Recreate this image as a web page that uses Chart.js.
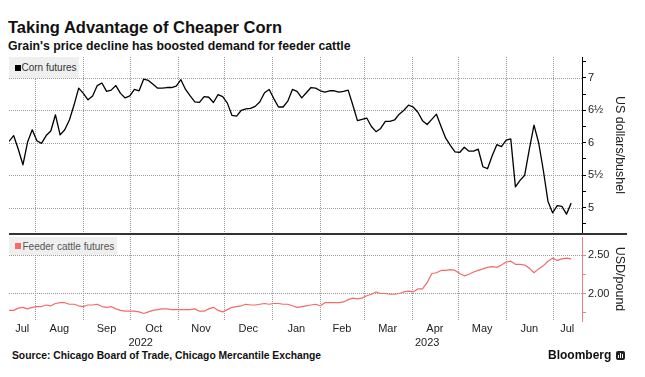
<!DOCTYPE html>
<html lang="en">
<head>
    <meta charset="UTF-8">
    <title>Taking Advantage of Cheaper Corn</title>
    <script src="https://cdn.jsdelivr.net/npm/chart.js"></script>
    <style>
        body { margin: 0; background: #fff; font-family: "Liberation Sans", Arial, sans-serif; }
        #wrap { position: relative; width: 645px; height: 377px; overflow: hidden; }
        .txt { position: absolute; white-space: nowrap; line-height: 1; color: #111; }
        #title { left: 8px; top: 18.5px; font-size: 16.5px; font-weight: bold; }
        #subtitle { left: 8px; top: 39.6px; font-size: 12.3px; font-weight: bold; }
        canvas { position: absolute; left: 0; }
        .legend { position: absolute; left: 9px; background: #efefef; font-size: 10px; line-height: 1; }
        .legend .box { position: absolute; left: 6px; width: 6px; height: 6px; }
        .legend span.lab { position: absolute; white-space: nowrap; }
        #divider { position: absolute; left: 9px; top: 233px; width: 618px; height: 2px; background: #333; }
        #source { left: 12px; top: 350.5px; font-size: 10.3px; font-weight: bold; }
        #brand { left: 548px; top: 349px; font-size: 12px; font-weight: bold; }
        #logo { position: absolute; left: 616px; top: 351px; width: 9px; height: 9px; border-radius: 2px;
                background: #222; }
        #logo i { position: absolute; bottom: 2px; width: 1px; background: #fff; }
    </style>
</head>
<body>
<div id="wrap">
    <div class="txt" id="title">Taking Advantage of Cheaper Corn</div>
    <div class="txt" id="subtitle">Grain's price decline has boosted demand for feeder cattle</div>

    <canvas id="cornChart" width="645" height="180" style="top:55px"></canvas>
    <canvas id="cattleChart" width="645" height="114" style="top:235px"></canvas>

    <div id="divider"></div>

    <div class="legend" style="top:57px;width:70px;height:21px">
        <div class="box" style="top:8px;background:#000"></div>
        <span class="lab" style="left:12.5px;top:6px;color:#333">Corn futures</span>
    </div>
    <div class="legend" style="top:237px;width:108px;height:18px">
        <div class="box" style="top:6px;background:#f56b6b"></div>
        <span class="lab" style="left:13.5px;top:5px;color:#555">Feeder cattle futures</span>
    </div>

    <div class="txt" id="source">Source: Chicago Board of Trade, Chicago Mercantile Exchange</div>
    <div class="txt" id="brand">Bloomberg</div>
    <div id="logo"><i style="left:2px;height:3px"></i><i style="left:4px;height:5px"></i><i style="left:6px;height:4px"></i></div>
</div>

<script>
    // sample dates (every third day) shared by both series
    var dates = [
        '2022-07-15','2022-07-18','2022-07-21','2022-07-24','2022-07-27','2022-07-30','2022-08-02','2022-08-05','2022-08-08','2022-08-11',
        '2022-08-14','2022-08-17','2022-08-20','2022-08-23','2022-08-26','2022-08-29','2022-09-01','2022-09-04','2022-09-07','2022-09-10',
        '2022-09-13','2022-09-16','2022-09-19','2022-09-22','2022-09-25','2022-09-28','2022-10-01','2022-10-04','2022-10-07','2022-10-10',
        '2022-10-13','2022-10-16','2022-10-19','2022-10-22','2022-10-25','2022-10-28','2022-10-31','2022-11-03','2022-11-06','2022-11-09',
        '2022-11-12','2022-11-15','2022-11-18','2022-11-21','2022-11-24','2022-11-27','2022-11-30','2022-12-03','2022-12-06','2022-12-09',
        '2022-12-12','2022-12-15','2022-12-18','2022-12-21','2022-12-24','2022-12-27','2022-12-30','2023-01-02','2023-01-05','2023-01-08',
        '2023-01-11','2023-01-14','2023-01-17','2023-01-20','2023-01-23','2023-01-26','2023-01-29','2023-02-01','2023-02-04','2023-02-07',
        '2023-02-10','2023-02-13','2023-02-16','2023-02-19','2023-02-22','2023-02-25','2023-02-28','2023-03-03','2023-03-06','2023-03-09',
        '2023-03-12','2023-03-15','2023-03-18','2023-03-21','2023-03-24','2023-03-27','2023-03-30','2023-04-02','2023-04-05','2023-04-08',
        '2023-04-11','2023-04-14','2023-04-17','2023-04-20','2023-04-23','2023-04-26','2023-04-29','2023-05-02','2023-05-05','2023-05-08',
        '2023-05-11','2023-05-14','2023-05-17','2023-05-20','2023-05-23','2023-05-26','2023-05-29','2023-06-01','2023-06-04','2023-06-07',
        '2023-06-10','2023-06-13','2023-06-16','2023-06-19','2023-06-22','2023-06-25','2023-06-28','2023-07-01','2023-07-04','2023-07-07',
        '2023-07-10','2023-07-13'
    ];

    // corn futures, US dollars per bushel
    var cornFutures = [
        6.02, 6.11, 5.90, 5.66, 6.01, 6.20, 6.03, 5.99, 6.11, 6.18,
        6.43, 6.12, 6.20, 6.35, 6.58, 6.84, 6.76, 6.66, 6.72, 6.88,
        6.92, 6.79, 6.81, 6.88, 6.76, 6.69, 6.72, 6.82, 6.80, 6.98,
        6.96, 6.90, 6.84, 6.84, 6.85, 6.85, 6.87, 6.97, 6.82, 6.72,
        6.63, 6.62, 6.71, 6.70, 6.62, 6.74, 6.71, 6.61, 6.42, 6.41,
        6.50, 6.52, 6.53, 6.56, 6.63, 6.77, 6.82, 6.68, 6.55, 6.55,
        6.64, 6.82, 6.79, 6.69, 6.77, 6.85, 6.84, 6.80, 6.78, 6.80,
        6.80, 6.78, 6.79, 6.81, 6.58, 6.34, 6.36, 6.38, 6.25, 6.17,
        6.22, 6.33, 6.33, 6.35, 6.44, 6.50, 6.58, 6.55, 6.47, 6.34,
        6.28, 6.36, 6.44, 6.25, 6.07, 5.96, 5.86, 5.85, 5.93, 5.87,
        5.87, 5.90, 5.63, 5.60, 5.80, 5.97, 5.94, 6.04, 6.06, 5.32,
        5.42, 5.50, 5.90, 6.27, 6.00, 5.58, 5.10, 4.92, 5.03, 5.02,
        4.90, 5.07
    ];

    // feeder cattle futures, USD per pound
    var cattleFutures = [
        1.78, 1.78, 1.81, 1.82, 1.80, 1.82, 1.83, 1.83, 1.85, 1.84,
        1.87, 1.88, 1.88, 1.86, 1.86, 1.84, 1.83, 1.85, 1.85, 1.86,
        1.83, 1.82, 1.83, 1.80, 1.78, 1.77, 1.77, 1.77, 1.76, 1.74,
        1.76, 1.78, 1.79, 1.80, 1.80, 1.79, 1.79, 1.79, 1.79, 1.79,
        1.80, 1.77, 1.77, 1.80, 1.82, 1.78, 1.76, 1.79, 1.82, 1.83,
        1.84, 1.86, 1.85, 1.85, 1.86, 1.87, 1.86, 1.87, 1.87, 1.86,
        1.86, 1.84, 1.82, 1.83, 1.84, 1.85, 1.86, 1.84, 1.88, 1.88,
        1.88, 1.88, 1.89, 1.92, 1.94, 1.93, 1.94, 1.97, 1.99, 2.02,
        2.00, 2.00, 1.99, 1.99, 2.00, 2.02, 2.03, 2.02, 2.06, 2.06,
        2.14, 2.26, 2.27, 2.30, 2.30, 2.31, 2.30, 2.26, 2.23, 2.25,
        2.28, 2.30, 2.32, 2.34, 2.35, 2.34, 2.37, 2.41, 2.42, 2.38,
        2.38, 2.37, 2.33, 2.27, 2.32, 2.36, 2.42, 2.46, 2.43, 2.45,
        2.46, 2.45
    ];

    // x axis
    var xStart = '2022-07-15';
    var xEnd = '2023-07-20';
    var monthStarts = ['2022-07-01','2022-08-01','2022-09-01','2022-10-01','2022-11-01','2022-12-01',
                       '2023-01-01','2023-02-01','2023-03-01','2023-04-01','2023-05-01','2023-06-01','2023-07-01'];
    var monthLabels = ['Jul','Aug','Sep','Oct','Nov','Dec','Jan','Feb','Mar','Apr','May','Jun','Jul'];
    var yearStarts = ['2022-01-01','2023-01-01'];
    var yearLabels = ['2022','2023'];

    // y axes
    var cornRange = [4.61, 7.32];
    var cornTicks = [4.75, 5, 5.25, 5.5, 5.75, 6, 6.25, 6.5, 6.75, 7, 7.25];
    var cornTickLabels = ['', '5', '', '5½', '', '6', '', '6½', '', '7', ''];
    var cattleRange = [1.642, 2.735];
    var cattleTicks = [1.75, 2, 2.25, 2.5];
    var cattleTickLabels = ['', '2.00', '', '2.50'];

    var FONT = '"Liberation Sans", Arial, sans-serif';
    var GRID = '#9a9a9a';

    // days since 1 Jul 2022
    var origin = Date.UTC(2022, 6, 1);
    function day(s) {
        var p = s.split('-').map(Number);
        return (Date.UTC(p[0], p[1] - 1, p[2]) - origin) / 86400000;
    }
    var xMin = day(xStart), xMax = day(xEnd);
    var monthLines = monthStarts.map(day).filter(function (d) { return d > xMin && d < xMax; });

    function points(values) {
        return values.map(function (v, i) { return { x: day(dates[i]), y: v }; });
    }

    function labelledTicks(ticks, labels) {
        return ticks.filter(function (v, i) { return labels[i] !== ''; });
    }

    // labels sit in the middle of the visible part of each period
    function periodTicks(starts, names) {
        return starts.map(function (s, i) {
            var a = Math.max(day(s), xMin);
            var b = i + 1 < starts.length ? Math.min(day(starts[i + 1]), xMax) : xMax;
            return { value: (a + b) / 2, name: names[i] };
        });
    }

    // dotted grid drawn through the chart's own scales
    function dottedGrid(yValues) {
        return {
            id: 'dottedGrid',
            beforeDatasetsDraw: function (chart) {
                var ctx = chart.ctx, a = chart.chartArea;
                var xs = chart.scales.x, ys = chart.scales.y;
                ctx.save();
                ctx.strokeStyle = GRID;
                ctx.lineWidth = 1;
                ctx.setLineDash([1, 1]);
                ctx.beginPath();
                monthLines.forEach(function (v) {
                    var px = Math.round(xs.getPixelForValue(v)) + 0.5;
                    ctx.moveTo(px, a.top);
                    ctx.lineTo(px, a.bottom);
                });
                yValues.forEach(function (v) {
                    var py = Math.round(ys.getPixelForValue(v)) + 0.5;
                    ctx.moveTo(a.left, py);
                    ctx.lineTo(a.right, py);
                });
                ctx.stroke();
                ctx.restore();
            }
        };
    }

    // keep the plot area where the picture has it
    function noPadding(s) {
        s.paddingTop = 0; s.paddingBottom = 0; s.paddingLeft = 0; s.paddingRight = 0;
    }

    function gridAxis() {
        return {
            type: 'linear', position: 'bottom', min: xMin, max: xMax, weight: 0,
            afterFit: function (s) { s.height = 0; noPadding(s); },
            ticks: { display: false },
            grid: { display: false },
            border: { display: false }
        };
    }

    function labelAxis(starts, names, weight) {
        return {
            type: 'linear', position: 'bottom', min: xMin, max: xMax, weight: weight,
            afterBuildTicks: function (s) { s.ticks = periodTicks(starts, names); },
            afterFit: function (s) { s.height = 14; noPadding(s); },
            ticks: {
                autoSkip: false, maxRotation: 0, padding: 1.5, color: '#222',
                font: { family: FONT, size: 11 },
                callback: function (v, i, t) { return t[i].name; }
            },
            grid: { display: false, drawTicks: false },
            border: { display: false }
        };
    }

    function valueAxis(range, ticks, labels, title, axisColor) {
        return {
            type: 'linear', position: 'right', min: range[0], max: range[1],
            afterBuildTicks: function (s) { s.ticks = ticks.map(function (v) { return { value: v }; }); },
            afterFit: function (s) { s.width = 63; noPadding(s); },
            ticks: {
                autoSkip: false, padding: 2, color: '#222',
                font: { family: FONT, size: 11 },
                callback: function (v, i) { return labels[i]; }
            },
            grid: { display: true, drawOnChartArea: false, tickColor: axisColor, tickLength: 4 },
            border: { display: true, color: axisColor, width: 1 },
            title: {
                display: true, text: title, color: '#222',
                font: { family: FONT, size: 12.5 }, padding: { top: 18.5, bottom: 0 }
            }
        };
    }

    function baseOptions(padding) {
        return {
            responsive: false,
            animation: false,
            devicePixelRatio: 1,
            layout: { padding: padding },
            plugins: { legend: { display: false }, tooltip: { enabled: false } },
            elements: { point: { radius: 0 }, line: { tension: 0, borderJoinStyle: 'round' } }
        };
    }

    var cornOptions = baseOptions({ left: 9, top: 2, right: 0, bottom: 2 });
    cornOptions.scales = {
        x: gridAxis(),
        y: valueAxis(cornRange, cornTicks, cornTickLabels, 'US dollars/bushel', '#000')
    };

    var cornChart = new Chart(document.getElementById('cornChart').getContext('2d'), {
        type: 'line',
        data: {
            datasets: [{
                label: 'Corn futures',
                data: points(cornFutures),
                borderColor: '#000',
                borderWidth: 1.3
            }]
        },
        options: cornOptions,
        plugins: [dottedGrid(labelledTicks(cornTicks, cornTickLabels))]
    });

    var cattleOptions = baseOptions({ left: 9, top: 2, right: 0, bottom: 0 });
    cattleOptions.scales = {
        x: gridAxis(),
        months: labelAxis(monthStarts, monthLabels, 1),
        years: labelAxis(yearStarts, yearLabels, 2),
        y: valueAxis(cattleRange, cattleTicks, cattleTickLabels, 'USD/pound', '#f08080')
    };

    var cattleChart = new Chart(document.getElementById('cattleChart').getContext('2d'), {
        type: 'line',
        data: {
            datasets: [{
                label: 'Feeder cattle futures',
                data: points(cattleFutures),
                borderColor: '#f36b6b',
                borderWidth: 1.2
            }]
        },
        options: cattleOptions,
        plugins: [dottedGrid(labelledTicks(cattleTicks, cattleTickLabels))]
    });
</script>
</body>
</html>
